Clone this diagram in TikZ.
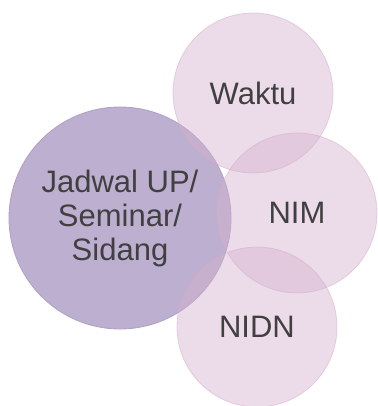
\documentclass[tikz,border=0pt]{standalone}
\usepackage{fontspec}
\setmainfont{Liberation Sans}
\begin{document}
\definecolor{lavender}{HTML}{BDAFCF}
\definecolor{lavedge}{HTML}{B0A0C6}
\definecolor{rosefill}{HTML}{D5B1CE}
\definecolor{roseedge}{HTML}{D3AECA}
\definecolor{inkgray}{HTML}{404040}
\begin{tikzpicture}[x=1pt,y=-1pt,
  bubble/.style={circle, inner sep=0pt, text=inkgray, align=center,
    font=\fontsize{31}{34}\selectfont},
  mainbubble/.style={bubble, minimum size=222pt, fill=lavender, draw=lavedge, line width=0.8pt},
  sidebubble/.style={bubble, minimum size=160pt, fill=rosefill, fill opacity=0.45,
    draw=roseedge, draw opacity=0.5, text opacity=1, line width=0.8pt}]
\useasboundingbox (0,0) rectangle (377,406);
\node[mainbubble] (sched) at (120,218) {Jadwal UP/\\Seminar/\\Sidang};
\node[sidebubble] (time) at (253,93) {Waktu};
\node[sidebubble] (nim) at (297,213) {NIM};
\node[sidebubble] (nidn) at (257,327) {NIDN};
\end{tikzpicture}
\end{document}
